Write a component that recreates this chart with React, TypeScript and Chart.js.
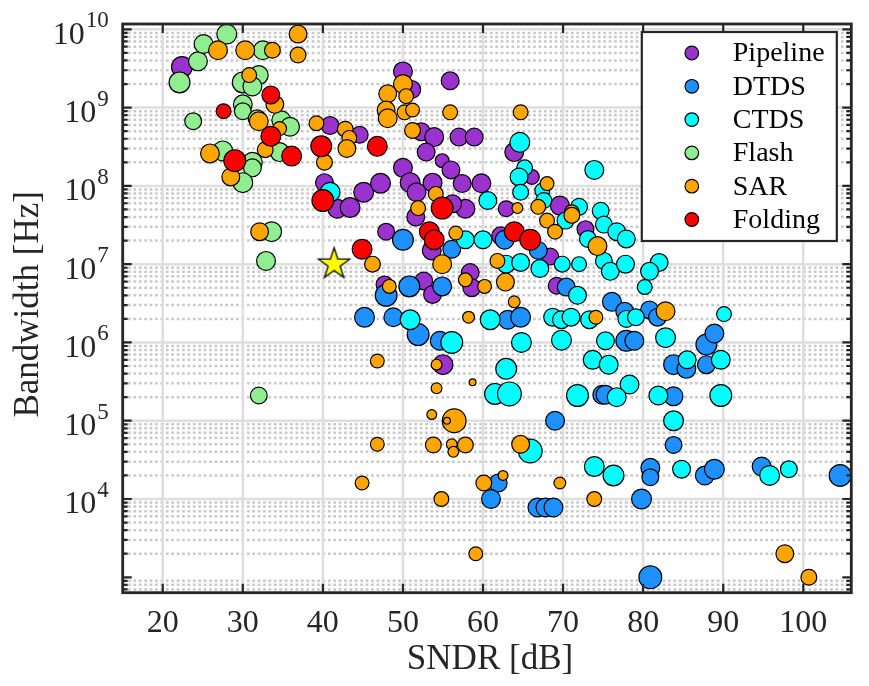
import React, { useEffect, useRef } from 'react';
import { Chart, registerables } from 'chart.js';

Chart.register(...registerables);

// ---------- data: [SNDR (dB), bandwidth (Hz), marker radius (px)] ----------
const seriesNames = ['Pipeline', 'DTDS', 'CTDS', 'Flash', 'SAR', 'Folding'];
const seriesColors = ['#9a32cd', '#1e90ff', '#00ffff', '#90ee90', '#ffa500', '#ff0000'];

const pipeline: number[][] = [
  [22.4, 3.3e9, 11], [40.9, 5.9e8, 9.5], [44.6, 4.5e8, 9], [40.2, 1.1e8, 9.5], [41.8, 5.1e7, 10],
  [43.4, 5.3e7, 10.5], [45.1, 8.3e7, 10.5], [50.0, 2.9e9, 10], [51.1, 1.7e9, 9.5], [55.9, 2.2e9, 9.5],
  [52.3, 4.9e8, 9.5], [53.9, 4.2e8, 10], [57.0, 4.2e8, 9.5], [58.9, 4.2e8, 9.5], [52.9, 2.7e8, 9.5],
  [54.9, 2.1e8, 7.5], [56.0, 1.6e8, 9.5], [50.0, 1.7e8, 10], [50.9, 1.1e8, 10.5], [47.2, 1.08e8, 10.5],
  [53.7, 1.1e8, 10], [57.4, 1.07e8, 9.5], [59.8, 1.08e8, 10], [51.7, 8.3e7, 10], [57.8, 5.1e7, 10],
  [56.2, 5.9e7, 9.5], [62.9, 5.1e7, 8.5], [69.6, 5.6e7, 10], [63.9, 2.7e8, 10], [66.1, 1.3e8, 8],
  [51.6, 4e7, 9.5], [47.9, 2.6e7, 9], [53.6, 1.5e7, 10], [62.2, 2.3e7, 9.5], [68.4, 1.25e7, 9],
  [72.8, 2.8e7, 9], [58.4, 7.8e6, 9.5], [58.6, 5e6, 9.5], [52.6, 6.1e6, 9.5], [53.7, 4.1e6, 9.5],
  [47.7, 5.5e6, 9], [69.2, 5.3e6, 9], [55.0, 5.2e5, 10.5],
];

const dtds: number[][] = [
  [45.2, 2.1e6, 10.5], [50.0, 2.05e7, 11], [56.1, 1.55e7, 9.5], [62.7, 2.05e7, 10], [66.9, 1.5e7, 9.5],
  [50.8, 5.2e6, 11], [54.9, 5.2e6, 10], [47.9, 4e6, 11.5], [48.8, 2.1e6, 10], [63.1, 1.95e6, 10],
  [64.7, 2.1e6, 10.5], [51.9, 1.26e6, 11.5], [54.6, 1.05e6, 10], [70.4, 5.1e6, 9.5], [74.9, 2.15e5, 10],
  [69.0, 1e5, 10], [61.9, 1.6e4, 9.5], [61.0, 1e4, 10], [66.8, 7.8e3, 10], [67.8, 7.8e3, 10],
  [68.8, 7.8e3, 10], [83.8, 4.9e4, 9], [80.9, 2.5e4, 10], [80.9, 1.9e4, 9], [87.7, 2e4, 10],
  [88.9, 2.4e4, 10.5], [94.8, 2.6e4, 10], [104.6, 2e4, 11.5], [79.8, 1e4, 10.5], [80.9, 1e3, 12],
  [76.1, 3.3e6, 10], [77.7, 2.5e6, 9.5], [80.8, 2.6e6, 9.5], [81.8, 2.1e6, 9.5], [77.9, 1.05e6, 11],
  [78.9, 1.05e6, 10], [83.8, 5.2e5, 10.5], [85.4, 4.6e5, 10], [87.9, 5.2e5, 9.5], [87.9, 9.4e5, 11],
  [88.9, 1.3e6, 10], [75.3, 2.15e5, 10], [83.8, 2.05e5, 10],
];

const ctds: number[][] = [
  [40.9, 8.3e7, 10.5], [60.6, 6.5e7, 9.5], [64.6, 3.6e8, 10.5], [65.2, 1.7e8, 8.5], [64.5, 1.3e8, 9.5],
  [64.7, 8.3e7, 8.5], [67.4, 8.7e7, 8], [67.6, 6.5e7, 8.5], [73.9, 1.6e8, 10], [72.0, 5.4e7, 9],
  [74.7, 4.8e7, 9], [57.8, 2.05e7, 9.5], [60.0, 2.05e7, 9.5], [62.9, 1e7, 9.5], [64.7, 1.05e7, 9.5],
  [67.1, 8.8e6, 9.5], [69.9, 1e7, 8.5], [72.0, 1e7, 8], [70.3, 3.6e7, 9], [73.1, 2.1e7, 9],
  [75.1, 3.2e7, 9], [75.1, 1.1e7, 9], [76.7, 2.6e7, 9.5], [77.9, 2.1e7, 9.5], [75.9, 8.1e6, 9.5],
  [77.8, 1e7, 9.5], [82.0, 1.05e7, 9.5], [80.8, 8.1e6, 9.5], [80.2, 5.1e6, 8], [50.9, 1.95e6, 10.5],
  [60.9, 1.95e6, 10.5], [56.1, 1e6, 11.5], [64.8, 1e6, 10.5], [68.7, 2.1e6, 9.5], [69.8, 1.95e6, 9.5],
  [71.0, 2.1e6, 9.5], [73.3, 1.95e6, 9.5], [71.8, 4e6, 9.5], [69.8, 1.07e6, 10.5], [75.3, 1.05e6, 9.5],
  [62.9, 4.6e5, 11], [61.5, 2.2e5, 11], [63.3, 2.2e5, 12.5], [73.7, 6e5, 10], [71.8, 2.1e5, 11.5],
  [65.9, 4.1e4, 12.5], [73.9, 2.6e4, 10.5], [83.8, 1e5, 10.5], [76.3, 2e4, 11], [84.8, 2.4e4, 9.5],
  [95.8, 2e4, 10.5], [98.2, 2.4e4, 9], [77.9, 2.0e6, 9], [79.1, 2.1e6, 9], [82.8, 1.15e6, 10.5],
  [75.7, 5.2e5, 10], [85.5, 6e5, 9.5], [90.1, 2.3e6, 8], [89.7, 6e5, 10], [78.3, 2.9e5, 10],
  [76.7, 2e5, 10], [81.9, 2.1e5, 10], [89.7, 2.1e5, 11.5],
];

const flash: number[][] = [
  [22.1, 2.1e9, 11], [24.4, 3.9e9, 10], [25.1, 6.5e9, 10], [28.0, 8.7e9, 10.5], [32.5, 5.4e9, 10],
  [30.0, 2.1e9, 11], [32.0, 2.6e9, 10], [31.2, 1.86e9, 10], [30.0, 1.1e9, 10], [30.0, 9e8, 9],
  [23.8, 6.7e8, 9], [31.8, 7.2e8, 9.5], [34.8, 6.9e8, 10], [35.9, 5.7e8, 10], [34.6, 2.7e8, 10],
  [27.5, 2.8e8, 10.5], [31.2, 2.0e8, 10.5], [31.2, 1.7e8, 9.5], [30.0, 1.1e8, 10.5], [33.6, 2.6e7, 10.5],
  [32.9, 1.1e7, 10], [32.0, 2.1e5, 9],
];

const sar: number[][] = [
  [26.9, 5.4e9, 10], [30.3, 5.4e9, 10], [33.7, 5.4e9, 8.5], [36.9, 8.7e9, 9.5], [36.9, 4.7e9, 8.5],
  [30.8, 2.6e9, 8], [34.0, 1.1e9, 9.5], [32.0, 6.7e8, 10], [34.6, 5.4e8, 7.5], [32.8, 2.9e8, 8.5],
  [25.9, 2.6e8, 10], [28.5, 1.3e8, 9.5], [39.2, 6.3e8, 8], [42.8, 5.3e8, 8.5], [43.3, 4.1e8, 8],
  [43.0, 3.0e8, 9.5], [40.2, 2.0e8, 8.5], [32.1, 2.6e7, 9.5], [50.0, 2.0e9, 10], [48.1, 1.5e9, 9.5],
  [50.4, 1.4e9, 8], [47.9, 9.3e8, 9.5], [48.1, 7.3e8, 10], [50.2, 8.7e8, 8], [51.2, 9.3e8, 7.5],
  [55.9, 8.7e8, 8], [64.7, 8.7e8, 8], [51.2, 5.1e8, 8.5], [54.1, 7.9e7, 8], [51.9, 5.2e7, 8],
  [64.3, 5.2e7, 6], [66.9, 5.4e7, 8], [71.1, 4.6e7, 8], [68.0, 1.07e8, 7.5], [68.0, 3.6e7, 8],
  [69.0, 2.6e7, 8], [71.1, 4.2e7, 8.5], [74.3, 1.7e7, 10], [56.6, 2.5e7, 7.5], [46.2, 1e7, 8.5],
  [54.9, 1e7, 10], [61.8, 1.1e7, 8], [57.8, 6.3e6, 7.5], [60.2, 5.2e6, 7.5], [62.8, 5.9e6, 9.5],
  [63.9, 3.3e6, 6.5], [48.3, 5.2e6, 7.5], [58.2, 2.1e6, 6.5], [74.1, 2.1e6, 7.5], [82.8, 2.5e6, 10],
  [54.2, 5.2e5, 6], [46.8, 5.8e5, 7.5], [54.2, 2.6e5, 6], [58.7, 3.1e5, 4], [53.6, 1.2e5, 5.5],
  [56.4, 1e5, 12.5], [55.5, 1e5, 4], [46.8, 5e4, 7.5], [53.8, 4.9e4, 8.5], [56.1, 5e4, 6],
  [56.3, 4e4, 6], [57.8, 4.9e4, 8.5], [64.7, 5e4, 9.5], [44.9, 1.6e4, 7.5], [60.1, 1.6e4, 8.5],
  [62.5, 2e4, 5.5], [54.8, 1e4, 8], [69.6, 1.6e4, 6.5], [73.9, 1e4, 8], [59.1, 2e3, 7.5],
  [97.7, 2e3, 9.5], [100.7, 1e3, 8.5],
];

const folding: number[][] = [
  [33.5, 1.45e9, 9.5], [27.6, 9e8, 8], [33.5, 4.3e8, 10.5], [36.1, 2.4e8, 10.5], [29.0, 2.1e8, 11.5],
  [39.8, 3.2e8, 11], [40.0, 6.5e7, 11.5], [46.8, 3.2e8, 10.5], [54.9, 5.2e7, 11.5], [53.3, 2.6e7, 10.5],
  [53.9, 2.05e7, 10.5], [44.9, 1.55e7, 10.5], [63.9, 2.6e7, 10.5], [65.9, 2.05e7, 11],
];

const thisWork: number[][] = [[41.4, 1e7, 16.5]];

const allSeries = [pipeline, dtds, ctds, flash, sar, folding];

const xTicks = [20, 30, 40, 50, 60, 70, 80, 90, 100];
const yDecades = [4, 5, 6, 7, 8, 9, 10];
const X_MIN = 15;
const X_MAX = 106;
const Y_MIN = Math.pow(10, 2.803);
const Y_MAX = Math.pow(10, 10.068);

const SERIF = '"Liberation Serif", "Times New Roman", serif';
const AXIS_COLOR = '#262626';

function makeStar(R: number): HTMLCanvasElement {
  const pad = 2;
  const size = Math.ceil(2 * R + 2 * pad);
  const c = document.createElement('canvas');
  c.width = size;
  c.height = size;
  const g = c.getContext('2d')!;
  const cx = size / 2;
  const cy = size / 2;
  const ri = R * 0.382;
  g.beginPath();
  for (let k = 0; k < 10; k++) {
    const ang = -Math.PI / 2 + (k * Math.PI) / 5;
    const rr = k % 2 === 0 ? R : ri;
    const px = cx + rr * Math.cos(ang);
    const py = cy + rr * Math.sin(ang);
    if (k === 0) g.moveTo(px, py);
    else g.lineTo(px, py);
  }
  g.closePath();
  g.fillStyle = '#ffff00';
  g.fill();
  g.lineWidth = 1.3;
  g.strokeStyle = '#000000';
  g.stroke();
  return c;
}

const matlabAxes = {
  id: 'matlabAxes',
  beforeDatasetsDraw(chart: any) {
    const { ctx, chartArea } = chart;
    const { left, right, top, bottom } = chartArea;
    const xs = chart.scales.x;
    const ys = chart.scales.y;
    ctx.save();
    ctx.fillStyle = '#ffffff';
    ctx.fillRect(left, top, right - left, bottom - top);
    ctx.beginPath();
    ctx.rect(left, top, right - left, bottom - top);
    ctx.clip();
    // minor horizontal (dotted)
    ctx.strokeStyle = '#c9c9c9';
    ctx.lineWidth = 2.5;
    ctx.setLineDash([2.7, 2.7]);
    for (let e = 2; e <= 10; e++) {
      for (let m = 2; m <= 9; m++) {
        const v = m * Math.pow(10, e);
        if (v <= Y_MIN || v >= Y_MAX) continue;
        const py = ys.getPixelForValue(v);
        ctx.beginPath();
        ctx.moveTo(left, py);
        ctx.lineTo(right, py);
        ctx.stroke();
      }
    }
    ctx.setLineDash([]);
    // major grid
    ctx.strokeStyle = '#dedede';
    ctx.lineWidth = 2.5;
    for (const e of yDecades) {
      const py = ys.getPixelForValue(Math.pow(10, e));
      ctx.beginPath();
      ctx.moveTo(left, py);
      ctx.lineTo(right, py);
      ctx.stroke();
    }
    for (const t of xTicks) {
      const px = xs.getPixelForValue(t);
      ctx.beginPath();
      ctx.moveTo(px, top);
      ctx.lineTo(px, bottom);
      ctx.stroke();
    }
    ctx.restore();
  },
  afterDraw(chart: any) {
    const { ctx, chartArea } = chart;
    const { left, right, top, bottom } = chartArea;
    const xs = chart.scales.x;
    const ys = chart.scales.y;
    ctx.save();
    // ticks
    ctx.strokeStyle = AXIS_COLOR;
    ctx.lineWidth = 2.2;
    for (let e = 2; e <= 10; e++) {
      for (let m = 1; m <= 9; m++) {
        const v = m * Math.pow(10, e);
        if (v < Y_MIN || v > Y_MAX) continue;
        const py = ys.getPixelForValue(v);
        const len = m === 1 ? 9 : 5;
        ctx.beginPath();
        ctx.moveTo(left, py);
        ctx.lineTo(left + len, py);
        ctx.moveTo(right, py);
        ctx.lineTo(right - len, py);
        ctx.stroke();
      }
    }
    for (const t of xTicks) {
      const px = xs.getPixelForValue(t);
      ctx.beginPath();
      ctx.moveTo(px, bottom);
      ctx.lineTo(px, bottom - 9);
      ctx.moveTo(px, top);
      ctx.lineTo(px, top + 9);
      ctx.stroke();
    }
    // frame
    ctx.lineWidth = 2.8;
    ctx.strokeRect(left, top, right - left, bottom - top);

    // x tick labels
    ctx.fillStyle = AXIS_COLOR;
    ctx.font = `32px ${SERIF}`;
    ctx.textAlign = 'center';
    ctx.textBaseline = 'middle';
    for (const t of xTicks) {
      ctx.fillText(String(t), xs.getPixelForValue(t), bottom + 31);
    }
    // y tick labels 10^n
    const labelRight = left - 14;
    for (const e of yDecades) {
      const py = ys.getPixelForValue(Math.pow(10, e));
      ctx.font = `23px ${SERIF}`;
      ctx.textAlign = 'right';
      const expStr = String(e);
      const expW = ctx.measureText(expStr).width;
      ctx.fillText(expStr, labelRight, py - 8);
      ctx.font = `32px ${SERIF}`;
      ctx.fillText('10', labelRight - expW - 1, py + 6);
    }
    // titles
    ctx.font = `35px ${SERIF}`;
    ctx.textAlign = 'center';
    ctx.fillText('SNDR [dB]', (left + right) / 2 + 3, bottom + 67);
    ctx.save();
    ctx.translate(29, (top + bottom) / 2 - 4);
    ctx.rotate(-Math.PI / 2);
    ctx.fillText('Bandwidth [Hz]', 0, 0);
    ctx.restore();

    // legend
    const boxRight = right - 14.5;
    const boxLeft = boxRight - 195;
    const boxTop = top + 8;
    const rowH = 33.3;
    const boxH = 209;
    ctx.fillStyle = '#ffffff';
    ctx.fillRect(boxLeft, boxTop, boxRight - boxLeft, boxH);
    ctx.strokeStyle = AXIS_COLOR;
    ctx.lineWidth = 2.2;
    ctx.strokeRect(boxLeft, boxTop, boxRight - boxLeft, boxH);
    ctx.font = `28px ${SERIF}`;
    ctx.textAlign = 'left';
    ctx.textBaseline = 'middle';
    seriesNames.forEach((name, i) => {
      const cy = boxTop + 21 + i * rowH;
      ctx.beginPath();
      ctx.arc(boxLeft + 50, cy, 6.8, 0, Math.PI * 2);
      ctx.fillStyle = seriesColors[i];
      ctx.fill();
      ctx.lineWidth = 1.2;
      ctx.strokeStyle = '#000000';
      ctx.stroke();
      ctx.fillStyle = '#000000';
      ctx.fillText(name, boxLeft + 91, cy + 1);
    });
    ctx.restore();
  },
};

export default function App() {
  const canvasRef = useRef<HTMLCanvasElement | null>(null);

  useEffect(() => {
    const canvas = canvasRef.current;
    if (!canvas) return;
    const star = makeStar(thisWork[0][2]);
    const datasets: any[] = allSeries.map((s, i) => ({
      label: seriesNames[i],
      data: s.map(([x, y, r]) => ({ x, y, r: r - 0.6 })),
      backgroundColor: seriesColors[i],
      borderColor: '#000000',
      borderWidth: 1.2,
      order: 6 - i,
    }));
    datasets.push({
      label: 'This work',
      data: thisWork.map(([x, y, r]) => ({ x, y, r })),
      pointStyle: star,
      backgroundColor: '#ffff00',
      borderColor: '#000000',
      borderWidth: 1.2,
      order: 0,
    });
    const chart = new Chart(canvas, {
      type: 'bubble',
      data: { datasets },
      options: {
        animation: false,
        responsive: false,
        devicePixelRatio: 1,
        events: [],
        layout: { padding: { left: 122.7, right: 2.5, top: 24, bottom: 93.3 } },
        plugins: { legend: { display: false }, tooltip: { enabled: false } },
        scales: {
          x: { type: 'linear', min: X_MIN, max: X_MAX, display: false },
          y: { type: 'logarithmic', min: Y_MIN, max: Y_MAX, display: false },
        },
      } as any,
      plugins: [matlabAxes],
    });
    return () => chart.destroy();
  }, []);

  return (
    <div style={{ position: 'fixed', left: 0, top: 0, width: 869, height: 686, background: '#ffffff' }}>
      <canvas ref={canvasRef} width={869} height={686} />
    </div>
  );
}
